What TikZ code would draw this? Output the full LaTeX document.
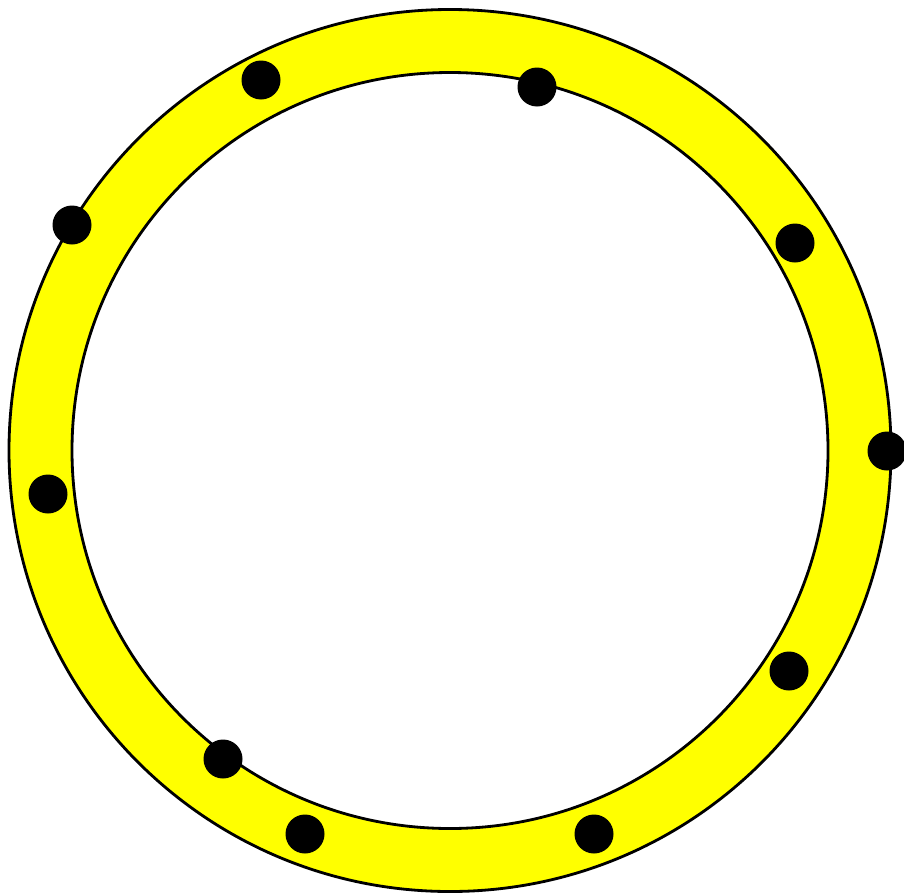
\documentclass[tikz,border=0pt]{standalone}
\usepackage{tikz}
\usetikzlibrary{positioning}
\definecolor{bandyellow}{RGB}{255,255,0}
\tikzset{
  ring/.style   = {draw=black, line width=0.8pt},
  ringfill/.style = {fill=bandyellow, even odd rule},
  bead/.style   = {circle, fill=black, inner sep=0pt, minimum size=0.39cm}
}
\begin{document}
\begin{tikzpicture}
  \useasboundingbox (0,0) rectangle (9.04,-8.92);
  \coordinate (centre) at (4.50,-4.505);
  % yellow band between the two circles
  \path[ringfill] (centre) circle[radius=4.41] (centre) circle[radius=3.78];
  \draw[ring] (centre) circle[radius=4.41];
  \draw[ring] (centre) circle[radius=3.78];
  % beads on the band
  \node[bead] (bead1)  at (2.61,-0.80) {};
  \node[bead] (bead2)  at (5.37,-0.87) {};
  \node[bead] (bead3)  at (7.95,-2.43) {};
  \node[bead] (bead4)  at (8.87,-4.51) {};
  \node[bead] (bead5)  at (7.89,-6.71) {};
  \node[bead] (bead6)  at (5.94,-8.34) {};
  \node[bead] (bead7)  at (3.05,-8.34) {};
  \node[bead] (bead8)  at (2.23,-7.59) {};
  \node[bead] (bead9)  at (0.48,-4.94) {};
  \node[bead] (bead10) at (0.72,-2.25) {};
\end{tikzpicture}
\end{document}
